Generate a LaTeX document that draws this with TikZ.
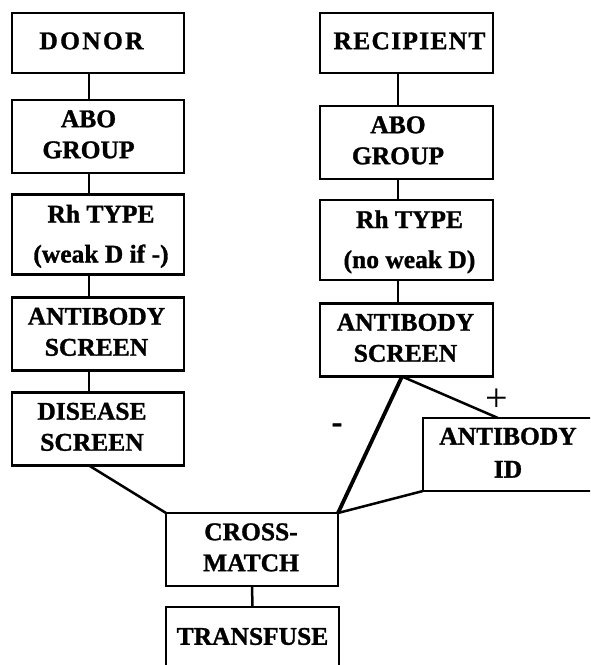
\documentclass[tikz,border=0pt]{standalone}
\usepackage{fontspec}
\setmainfont{Liberation Serif}[BoldFeatures={FakeBold=1.2}]
\newcommand\boxtext[3]{\makebox[0pt]{\hspace*{#1}\fontsize{25.5}{#2}\selectfont\bfseries\begin{tabular}{@{}c@{}}#3\end{tabular}}}
\newcommand\spaced[2]{{\addfontfeature{LetterSpace=#1}#2}}
\tikzset{
  box/.style={draw, line width=2.6pt, rectangle, inner sep=0pt, outer sep=0pt,
    minimum width=172pt, minimum height=73pt},
  conn/.style={line width=2.5pt},
  thickconn/.style={line width=3.8pt},
  lbl/.style={inner sep=0pt, font=\fontsize{40}{44}\selectfont}
}
\begin{document}
\begin{tikzpicture}[x=1pt,y=-1pt]
\useasboundingbox (0,0) rectangle (590,665);
\clip (0,0) rectangle (590,665);
% donor column
\node[box, minimum height=60pt] (d1) at (98,43) {\boxtext{-13pt}{31pt}{\spaced{9}{DONOR}}};
\node[box] (d2) at (98,136.5) {\boxtext{-19pt}{31pt}{ABO\\GROUP}};
\node[box] (d3) at (98,234.5) {\boxtext{6pt}{40pt}{Rh TYPE\\(weak D if -)}};
\node[box] (d4) at (98,334) {\boxtext{-3pt}{31pt}{ANTIBODY\\SCREEN}};
\node[box] (d5) at (98,429) {\boxtext{-12pt}{31pt}{DISEASE\\SCREEN}};
% recipient column
\node[box, minimum width=173pt, minimum height=60pt] (r1) at (406.5,43) {\boxtext{6pt}{31pt}{\spaced{5}{RECIPIENT}}};
\node[box, minimum width=173pt] (r2) at (406.5,142.5) {\boxtext{-17pt}{31pt}{ABO\\GROUP}};
\node[box, minimum width=173pt] (r3) at (406.5,240) {\boxtext{6pt}{40pt}{Rh TYPE\\(no weak D)}};
\node[box, minimum width=173pt] (r4) at (406.5,340) {\boxtext{-2pt}{31pt}{ANTIBODY\\SCREEN}};
% antibody id
\node[box, minimum width=170pt] (abid) at (508,454.5) {\boxtext{0pt}{33pt}{ANTIBODY\\ID}};
% crossmatch and transfuse
\node[box] (cm) at (252,549.5) {\boxtext{-2pt}{31pt}{CROSS-\\MATCH}};
\node[box, minimum width=173pt] (tf) at (252.5,643.5) {\boxtext{0pt}{31pt}{\raisebox{5pt}{TRANSFUSE}}};
% labels
\node[lbl] (plus) at (497,400) {+};
\node[lbl, font=\fontsize{32}{36}\selectfont\bfseries] (minus) at (337,428) {-};
% connectors
\foreach \a/\b in {d1/d2,d2/d3,d3/d4,d4/d5}
  \draw[conn] ([xshift=-9pt]\a.south) -- ([xshift=-9pt]\b.north);
\foreach \a/\b in {r1/r2,r2/r3,r3/r4}
  \draw[conn] ([xshift=-8.5pt]\a.south) -- ([xshift=-8.5pt]\b.north);
\draw[conn] ([xshift=-9pt]d5.south) -- (cm.north west);
\draw[thickconn] ([xshift=-4.5pt]r4.south) -- (cm.north east);
\draw[conn] ([xshift=-4.5pt]r4.south) -- ([xshift=-10pt]abid.north);
\draw[conn] (abid.south west) -- (cm.north east);
\draw[conn] (cm.south) -- (tf.north);
\end{tikzpicture}
\end{document}
